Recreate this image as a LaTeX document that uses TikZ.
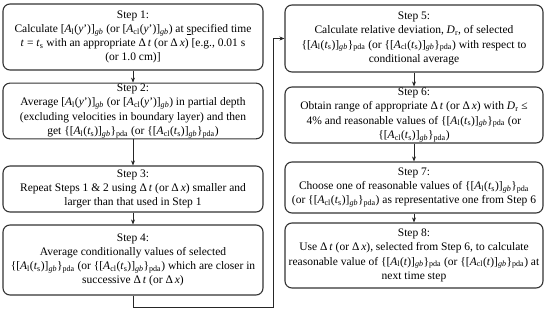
\documentclass[tikz,border=0pt]{standalone}
\usepackage{fontspec}
\setmainfont{Liberation Serif}
\usetikzlibrary{arrows.meta}
\newcommand{\Al}{\textit{A}\textsubscript{l}}
\newcommand{\Acl}{\textit{A}\textsubscript{cl}}
\newcommand{\gbx}{\textsubscript{\textit{gb}}}
\newcommand{\pdax}{\textsubscript{pda}}
\newcommand{\tsx}{\textit{t}\textsubscript{s}}
\newcommand{\Dt}{Δ\,\textit{t}}
\newcommand{\Dx}{Δ\,\textit{x}}
\begin{document}
\begin{tikzpicture}[x=1pt,y=-1pt,
  stepbox/.style={draw=black!80, line width=1.1pt, rounded corners=7pt, align=center,
    inner sep=1pt, font=\fontsize{11.5}{14.2}\selectfont},
  conn/.style={draw=black!85, line width=0.7pt, -{Stealth[length=5pt,width=4pt]}}]
\useasboundingbox (0,0) rectangle (550,312);
\node[stepbox, minimum width=260pt, minimum height=66pt] (b1) at (133,37)
  {Step 1:\\ Calculate [\Al(\textit{y}’)]\gbx{} (or [\Acl(\textit{y}’)]\gbx) at \underline{s}pecified time\\
   \textit{t} = \tsx{} with an appropriate \Dt{} (or \Dx) [e.g., 0.01 s\\ (or 1.0 cm)]};
\node[stepbox, minimum width=260pt, minimum height=52pt] (b2) at (133,111)
  {Step 2:\\ Average [\Al(\textit{y}’)]\gbx{} (or [\Acl(\textit{y}’)]\gbx) in partial depth\\
   (excluding velocities in boundary layer) and then\\
   get \{[\Al(\tsx)]\gbx\}\pdax{} (or \{[\Acl(\tsx)]\gbx\}\pdax)};
\node[stepbox, minimum width=260pt, minimum height=46pt] (b3) at (133,189)
  {Step 3:\\ Repeat Steps 1 \& 2 using \Dt{} (or \Dx) smaller and\\
   larger than that used in Step 1};
\node[stepbox, minimum width=260pt, minimum height=70pt] (b4) at (133,260)
  {Step 4:\\ Average conditionally values of selected\\
   \{[\Al(\tsx)]\gbx\}\pdax{} (or \{[\Acl(\tsx)]\gbx\}\pdax) which are closer in\\
   successive \Dt{} (or \Dx)};
\node[stepbox, minimum width=258pt, minimum height=67pt] (b5) at (414,38.5)
  {Step 5:\\ Calculate relative deviation, \textit{D}\textsubscript{r}, of selected\\
   \{[\Al(\tsx)]\gbx\}\pdax{} (or \{[\Acl(\tsx)]\gbx\}\pdax) with respect to\\
   conditional average};
\node[stepbox, minimum width=258pt, minimum height=56pt] (b6) at (414,115)
  {Step 6:\\ Obtain range of appropriate \Dt{} (or \Dx) with \textit{D}\textsubscript{r} ≤\\
   4\% and reasonable values of \{[\Al(\tsx)]\gbx\}\pdax{} (or\\
   \{[\Acl(\tsx)]\gbx\}\pdax)};
\node[stepbox, minimum width=258pt, minimum height=51pt] (b7) at (414,187.5)
  {Step 7:\\ Choose one of reasonable values of \{[\Al(\tsx)]\gbx\}\pdax\\
   (or \{[\Acl(\tsx)]\gbx\}\pdax) as representative one from Step 6};
\node[stepbox, minimum width=258pt, minimum height=65pt] (b8) at (414,255.5)
  {Step 8:\\ Use \Dt{} (or \Dx), selected from Step 6, to calculate\\
   reasonable value of \{[\Al(\textit{t})]\gbx\}\pdax{} (or \{[\Acl(\textit{t})]\gbx\}\pdax) at\\
   next time step};
\coordinate (cr) at (273,307);
\draw[conn] (b1) -- (b2);
\draw[conn] (b2) -- (b3);
\draw[conn] (b3) -- (b4);
\draw[conn] (b4.south) |- (cr) |- (b5.west);
\draw[conn] (b5) -- (b6);
\draw[conn] (b6) -- (b7);
\draw[conn] (b7) -- (b8);
\end{tikzpicture}
\end{document}
